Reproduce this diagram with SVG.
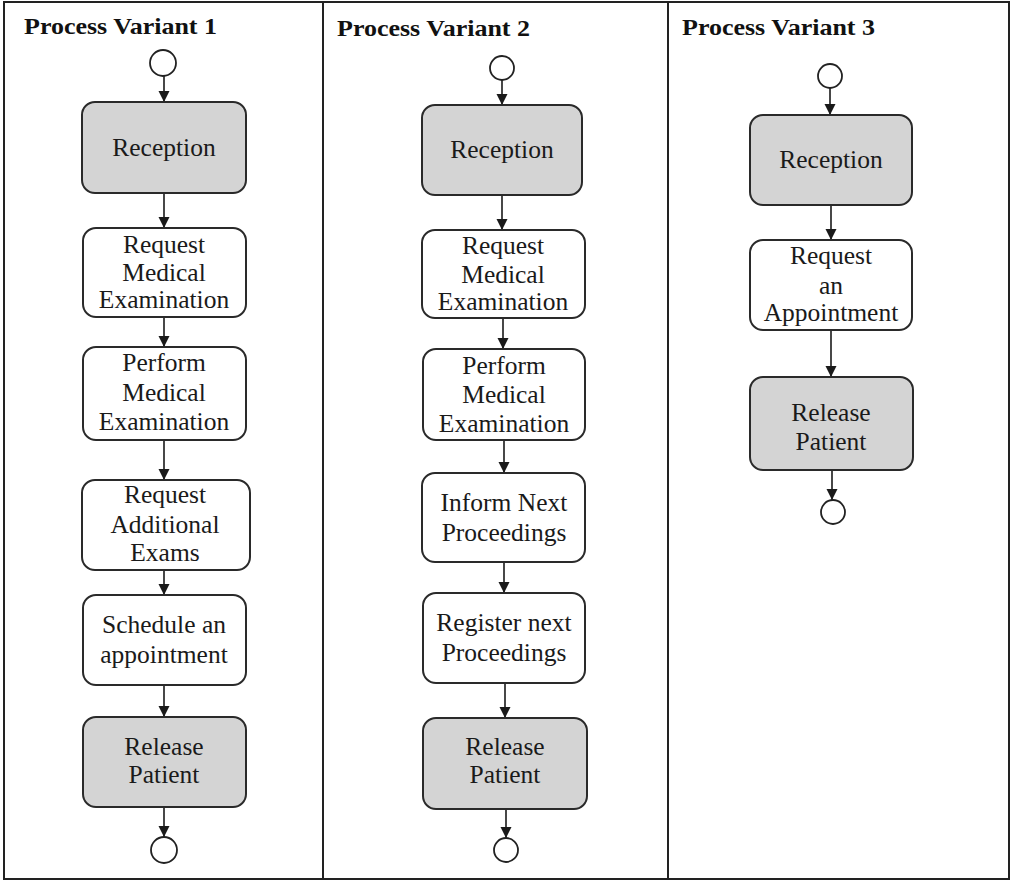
<svg xmlns="http://www.w3.org/2000/svg" width="1013" height="882" viewBox="0 0 1013 882">
<style>
.frame{fill:none;stroke:#222;stroke-width:2}
.box{fill:#fff;stroke:#2a2a2a;stroke-width:2}
.gray{fill:#d4d4d4;stroke:#2a2a2a;stroke-width:2}
.ev{fill:#fff;stroke:#222;stroke-width:1.8}
.conn{stroke:#1a1a1a;stroke-width:1.6;fill:none;marker-end:url(#arr)}
.t{font-family:"Liberation Serif","Times New Roman",serif;font-size:25.5px;fill:#1a1a1a;text-anchor:middle}
.title{font-family:"Liberation Serif","Times New Roman",serif;font-size:24px;font-weight:bold;fill:#111}
</style>
<defs>
<marker id="arr" markerUnits="userSpaceOnUse" markerWidth="12" markerHeight="12" refX="11" refY="5.5" orient="auto">
<path d="M0,0 L11,5.5 L0,11 z" fill="#1a1a1a"/>
</marker>
</defs>
<rect width="1013" height="882" fill="#fff"/>
<g id="frame">
<rect class="frame" x="4" y="2" width="1005" height="877"/>
<line class="frame" x1="323" y1="2" x2="323" y2="879"/>
<line class="frame" x1="668" y1="2" x2="668" y2="879"/>
</g>
<g id="titles">
<text class="title" x="24" y="34" textLength="193" lengthAdjust="spacingAndGlyphs">Process Variant 1</text>
<text class="title" x="337" y="36" textLength="193" lengthAdjust="spacingAndGlyphs">Process Variant 2</text>
<text class="title" x="682" y="35" textLength="193" lengthAdjust="spacingAndGlyphs">Process Variant 3</text>
</g>
<g id="connectors">
<line class="conn" x1="164" y1="76" x2="164" y2="102"/>
<line class="conn" x1="164" y1="193" x2="164" y2="228"/>
<line class="conn" x1="164" y1="317" x2="164" y2="347"/>
<line class="conn" x1="164" y1="440" x2="164" y2="480"/>
<line class="conn" x1="164" y1="570" x2="164" y2="595"/>
<line class="conn" x1="164" y1="685" x2="164" y2="717"/>
<line class="conn" x1="164" y1="807" x2="164" y2="837"/>
<line class="conn" x1="502" y1="80" x2="502" y2="105"/>
<line class="conn" x1="502" y1="195" x2="502" y2="230"/>
<line class="conn" x1="503" y1="318" x2="503" y2="349"/>
<line class="conn" x1="504" y1="440" x2="504" y2="473"/>
<line class="conn" x1="504" y1="562" x2="504" y2="593"/>
<line class="conn" x1="505" y1="683" x2="505" y2="718"/>
<line class="conn" x1="506" y1="809" x2="506" y2="838"/>
<line class="conn" x1="830" y1="88" x2="830" y2="115"/>
<line class="conn" x1="831" y1="205" x2="831" y2="240"/>
<line class="conn" x1="831" y1="330" x2="831" y2="377"/>
<line class="conn" x1="832" y1="470" x2="832" y2="500"/>
</g>
<g id="v1-start"><circle class="ev" cx="163" cy="63" r="13"/></g>
<g id="v1-reception"><rect class="gray" x="82" y="102" width="164" height="91" rx="13"/><text class="t" x="164" y="156">Reception</text></g>
<g id="v1-request-exam"><rect class="box" x="83" y="228" width="163" height="89" rx="13"/><text class="t" x="164" y="253">Request</text><text class="t" x="164" y="281">Medical</text><text class="t" x="164" y="308">Examination</text></g>
<g id="v1-perform-exam"><rect class="box" x="83" y="347" width="163" height="93" rx="13"/><text class="t" x="164" y="371">Perform</text><text class="t" x="164" y="401">Medical</text><text class="t" x="164" y="430">Examination</text></g>
<g id="v1-request-additional"><rect class="box" x="82" y="480" width="168" height="90" rx="13"/><text class="t" x="165" y="503">Request</text><text class="t" x="165" y="533">Additional</text><text class="t" x="165" y="561">Exams</text></g>
<g id="v1-schedule"><rect class="box" x="83" y="595" width="163" height="90" rx="13"/><text class="t" x="164" y="633">Schedule an</text><text class="t" x="164" y="663">appointment</text></g>
<g id="v1-release"><rect class="gray" x="83" y="717" width="163" height="90" rx="13"/><text class="t" x="164" y="755">Release</text><text class="t" x="164" y="783">Patient</text></g>
<g id="v1-end"><circle class="ev" cx="164" cy="850" r="13"/></g>
<g id="v2-start"><circle class="ev" cx="502" cy="68" r="12"/></g>
<g id="v2-reception"><rect class="gray" x="422" y="105" width="160" height="90" rx="13"/><text class="t" x="502" y="158">Reception</text></g>
<g id="v2-request-exam"><rect class="box" x="422" y="230" width="163" height="88" rx="13"/><text class="t" x="503" y="254">Request</text><text class="t" x="503" y="283">Medical</text><text class="t" x="503" y="310">Examination</text></g>
<g id="v2-perform-exam"><rect class="box" x="423" y="349" width="162" height="91" rx="13"/><text class="t" x="504" y="374">Perform</text><text class="t" x="504" y="403">Medical</text><text class="t" x="504" y="432">Examination</text></g>
<g id="v2-inform"><rect class="box" x="422" y="473" width="163" height="89" rx="13"/><text class="t" x="504" y="511">Inform Next</text><text class="t" x="504" y="541">Proceedings</text></g>
<g id="v2-register"><rect class="box" x="423" y="593" width="162" height="90" rx="13"/><text class="t" x="504" y="631">Register next</text><text class="t" x="504" y="661">Proceedings</text></g>
<g id="v2-release"><rect class="gray" x="423" y="718" width="164" height="91" rx="13"/><text class="t" x="505" y="755">Release</text><text class="t" x="505" y="783">Patient</text></g>
<g id="v2-end"><circle class="ev" cx="506" cy="850" r="12"/></g>
<g id="v3-start"><circle class="ev" cx="830" cy="76" r="12"/></g>
<g id="v3-reception"><rect class="gray" x="750" y="115" width="162" height="90" rx="13"/><text class="t" x="831" y="168">Reception</text></g>
<g id="v3-request-appt"><rect class="box" x="750" y="240" width="162" height="90" rx="13"/><text class="t" x="831" y="264">Request</text><text class="t" x="831" y="294">an</text><text class="t" x="831" y="321">Appointment</text></g>
<g id="v3-release"><rect class="gray" x="750" y="377" width="163" height="93" rx="13"/><text class="t" x="831" y="421">Release</text><text class="t" x="831" y="450">Patient</text></g>
<g id="v3-end"><circle class="ev" cx="833" cy="512" r="12"/></g>
</svg>
